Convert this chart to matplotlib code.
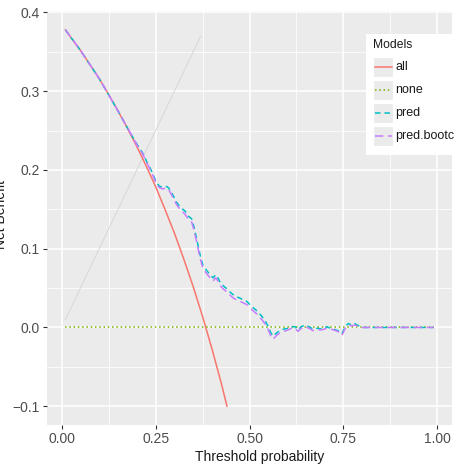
import matplotlib
matplotlib.use("Agg")
import matplotlib.pyplot as plt
from matplotlib.patches import Rectangle
from matplotlib.lines import Line2D

plt.rcParams['font.family'] = ['Liberation Sans', 'DejaVu Sans']

# ---- data ----
all_x = [0.01, 0.025, 0.05, 0.075, 0.10, 0.125, 0.15, 0.175, 0.20, 0.225, 0.25,
         0.275, 0.30, 0.325, 0.35, 0.375, 0.40, 0.425, 0.44]
all_y = [0.378, 0.368, 0.352, 0.334, 0.316, 0.296, 0.275, 0.253, 0.230, 0.205, 0.179,
         0.150, 0.120, 0.087, 0.052, 0.014, -0.027, -0.071, -0.100]

none_x = [0.01, 0.99]
none_y = [0.0, 0.0]

pred_x = [0.01, 0.05, 0.10, 0.15, 0.19, 0.20, 0.215, 0.225, 0.24, 0.253, 0.262, 0.27,
          0.28, 0.285, 0.293, 0.306, 0.315, 0.328, 0.338, 0.346, 0.352, 0.36, 0.368,
          0.376, 0.385, 0.395, 0.403, 0.41, 0.416, 0.422, 0.43, 0.44, 0.448, 0.458,
          0.466, 0.48, 0.493, 0.503, 0.51, 0.52, 0.533, 0.542, 0.549, 0.556, 0.563,
          0.572, 0.581, 0.592, 0.603, 0.612, 0.621, 0.629, 0.638, 0.648, 0.658, 0.669,
          0.68, 0.693, 0.706, 0.715, 0.723, 0.735, 0.746, 0.755, 0.763, 0.772, 0.78,
          0.787, 0.795, 0.803, 0.85, 0.90, 0.95, 0.99]
pred_y = [0.378, 0.352, 0.316, 0.275, 0.241, 0.233, 0.222, 0.212, 0.198, 0.183, 0.179,
          0.178, 0.179, 0.177, 0.171, 0.159, 0.153, 0.148, 0.141, 0.138, 0.128, 0.111,
          0.093, 0.079, 0.073, 0.067, 0.063, 0.067, 0.063, 0.057, 0.053, 0.049, 0.045,
          0.041, 0.039, 0.036, 0.033, 0.028, 0.025, 0.021, 0.014, 0.008, 0.002, -0.006,
          -0.011, -0.007, -0.004, -0.002, -0.001, 0.001, 0.001, -0.003, 0.001, 0.003,
          0.001, -0.002, -0.001, -0.002, 0.001, -0.001, -0.002, -0.004, -0.008, 0.001,
          0.005, 0.003, 0.005, 0.003, 0.001, 0.000, 0.000, 0.000, 0.000, 0.000]

boot_x = pred_x
boot_y = [0.378, 0.352, 0.316, 0.275, 0.241, 0.232, 0.221, 0.211, 0.196, 0.181, 0.177,
          0.176, 0.177, 0.175, 0.168, 0.156, 0.150, 0.144, 0.137, 0.134, 0.124, 0.107,
          0.089, 0.075, 0.069, 0.063, 0.059, 0.063, 0.059, 0.053, 0.049, 0.045, 0.041,
          0.037, 0.035, 0.032, 0.029, 0.024, 0.021, 0.017, 0.010, 0.004, -0.002, -0.010,
          -0.015, -0.010, -0.007, -0.005, -0.003, -0.001, -0.001, -0.005, -0.001, 0.001,
          -0.001, -0.004, -0.003, -0.003, -0.001, -0.002, -0.003, -0.005, -0.010, -0.001,
          0.003, 0.002, 0.003, 0.002, 0.000, 0.000, 0.000, 0.000, 0.000, 0.000]

diag_x = [0.01, 0.37]
diag_y = [0.01, 0.37]

labels = ['all', 'none', 'pred', 'pred.bootc']
colors = ['#F8766D', '#7CAE00', '#00BFC4', '#C77CFF']
x_ticks = [0.00, 0.25, 0.50, 0.75, 1.00]
x_ticklabels = ['0.00', '0.25', '0.50', '0.75', '1.00']
y_ticks = [-0.1, 0.0, 0.1, 0.2, 0.3, 0.4]
y_ticklabels = ['\u22120.1', '0.0', '0.1', '0.2', '0.3', '0.4']

# ---- figure ----
W, H = 459, 465
fig = plt.figure(figsize=(W / 100, H / 100), dpi=100)
ax = fig.add_axes([47 / W, 1 - 425 / H, (452 - 47) / W, (425 - 11) / H])
ax.set_facecolor('#EBEBEB')
for s in ax.spines.values():
    s.set_visible(False)

ax.set_xlim(-0.039, 1.039)
ax.set_ylim(-0.1239, 0.4019)
ax.set_xticks(x_ticks)
ax.set_xticklabels(x_ticklabels)
ax.set_yticks(y_ticks)
ax.set_yticklabels(y_ticklabels)
ax.set_xticks([0.125, 0.375, 0.625, 0.875], minor=True)
ax.set_yticks([-0.05, 0.05, 0.15, 0.25, 0.35], minor=True)
ax.grid(which='major', color='white', lw=1.1)
ax.grid(which='minor', color='white', lw=0.55)
ax.set_axisbelow(True)
ax.tick_params(which='major', length=3, width=0.8, color='#333333',
               labelsize=10, labelcolor='#4D4D4D', pad=2)
ax.tick_params(which='minor', length=0)

ax.plot(diag_x, diag_y, color='#D4D4D4', lw=0.6, zorder=2)
lw = 1.1
ax.plot(all_x, all_y, color=colors[0], lw=lw, zorder=3)
ax.plot(none_x, none_y, color=colors[1], lw=lw, dashes=(1, 1.8), zorder=3)
ax.plot(pred_x, pred_y, color=colors[2], lw=lw, dashes=(3.6, 2.6), zorder=3)
ax.plot(boot_x, boot_y, color=colors[3], lw=lw, dashes=(5.5, 3), zorder=4)

fig.text(260 / W, 1 - 457 / H, 'Threshold probability', ha='center', va='center',
         fontsize=10, color='#1A1A1A')
fig.text(1.5 / W, 1 - 214 / H, 'Net Benefit', ha='center', va='center',
         rotation=90, fontsize=10, color='#1A1A1A')

# ---- legend (drawn in figure pixel coords) ----
def fx(px):
    return px / W

def fy(py):
    return 1 - py / H

fig.patches.append(Rectangle((fx(366), fy(155)), fx(470) - fx(366), fy(34) - fy(155),
                             transform=fig.transFigure, facecolor='white',
                             edgecolor='none', zorder=5))
fig.text(fx(373), fy(45), 'Models', ha='left', va='center', fontsize=8.7,
         color='#1A1A1A', zorder=6)
row_y = [67, 90, 113, 136]
dash_styles = [None, (1, 1.8), (3.6, 2.6), (5.5, 3)]
for lab, c, yy, ds in zip(labels, colors, row_y, dash_styles):
    fig.patches.append(Rectangle((fx(373), fy(yy + 10)), fx(393) - fx(373), fy(yy - 10) - fy(yy + 10),
                                 transform=fig.transFigure, facecolor='#EBEBEB',
                                 edgecolor='white', lw=0.8, zorder=6))
    ln = Line2D([fx(375), fx(392)], [fy(yy), fy(yy)], transform=fig.transFigure,
                color=c, lw=lw, zorder=7)
    if ds is not None:
        ln.set_dashes(ds)
    fig.lines.append(ln)
    fig.text(fx(395.5), fy(yy), lab, ha='left', va='center', fontsize=9,
             color='#1A1A1A', zorder=7)

fig.savefig('out.png', dpi=100)
